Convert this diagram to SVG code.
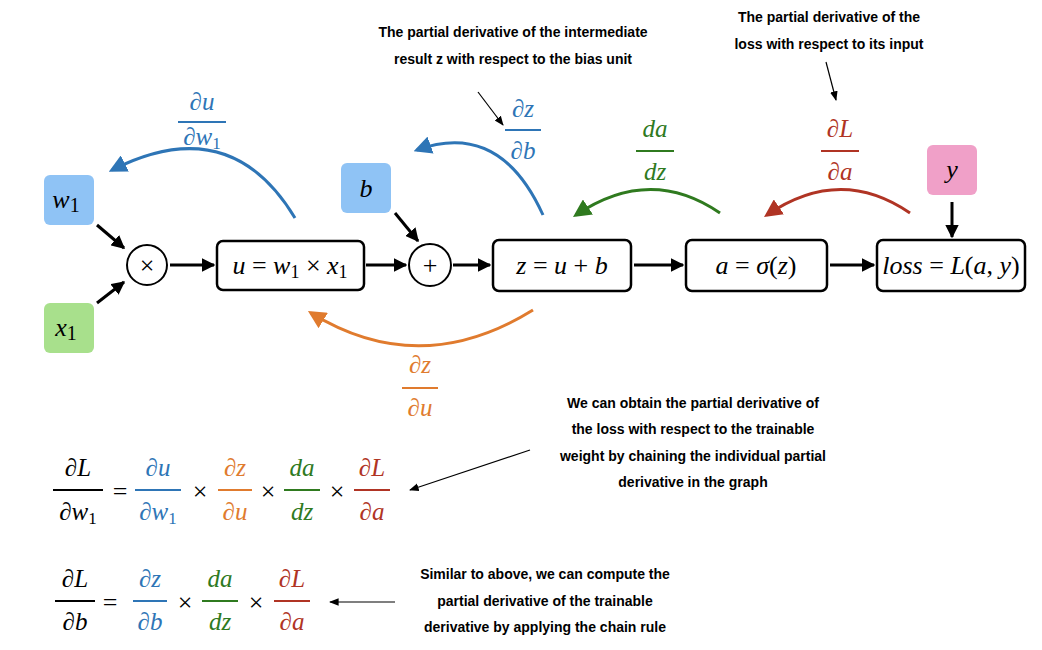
<svg xmlns="http://www.w3.org/2000/svg" width="1042" height="650" viewBox="0 0 1042 650">
<defs>
<style>
.m{font-family:"Liberation Serif",serif;font-style:italic;font-size:26px;text-anchor:middle}
.f{font-family:"Liberation Serif",serif;font-style:italic;font-size:25px;text-anchor:middle}
.n{font-family:"Liberation Serif",serif;font-size:26px;text-anchor:middle}
.a{font-family:"Liberation Sans",sans-serif;font-weight:bold;font-size:14px;text-anchor:middle;fill:#000}
.box{fill:#fff;stroke:#000;stroke-width:2.5}
.k{stroke:#000;stroke-width:3;fill:none;marker-end:url(#ah)}
.t{stroke:#000;stroke-width:1.2;fill:none;marker-end:url(#ta)}
.B{fill:#2e75b6}.O{fill:#e07b2e}.G{fill:#2f7a1f}.R{fill:#b03424}
</style>
<marker id="ah" viewBox="0 0 10 10" refX="9" refY="5" markerWidth="4.5" markerHeight="4.5" orient="auto"><path d="M0,0L10,5L0,10z"/></marker>
<marker id="ta" viewBox="0 0 10 10" refX="9" refY="5" markerWidth="8" markerHeight="8" orient="auto"><path d="M0,1L10,5L0,9z"/></marker>
<marker id="hB" viewBox="0 0 10 10" refX="8" refY="5" markerWidth="6" markerHeight="6" orient="auto"><path d="M0,0L10,5L0,10z" fill="#2e75b6"/></marker>
<marker id="hO" viewBox="0 0 10 10" refX="8" refY="5" markerWidth="6" markerHeight="6" orient="auto"><path d="M0,0L10,5L0,10z" fill="#e07b2e"/></marker>
<marker id="hG" viewBox="0 0 10 10" refX="8" refY="5" markerWidth="6" markerHeight="6" orient="auto"><path d="M0,0L10,5L0,10z" fill="#2f7a1f"/></marker>
<marker id="hR" viewBox="0 0 10 10" refX="8" refY="5" markerWidth="6" markerHeight="6" orient="auto"><path d="M0,0L10,5L0,10z" fill="#b03424"/></marker>
</defs>
<rect width="1042" height="650" fill="#fff"/>

<g id="w1"><rect x="44" y="175" width="50" height="50" rx="6" fill="#8fc3f5"/><text class="m" x="66" y="208">w<tspan font-style="normal" font-size="20" dy="4">1</tspan></text></g>
<g id="x1"><rect x="44" y="303" width="50" height="50" rx="6" fill="#a8e08c"/><text class="m" x="66" y="336">x<tspan font-style="normal" font-size="20" dy="4">1</tspan></text></g>
<g id="b"><rect x="341" y="163" width="50" height="50" rx="6" fill="#8fc3f5"/><text class="m" x="366" y="197">b</text></g>
<g id="y"><rect x="927" y="145" width="50" height="50" rx="6" fill="#f0a0c8"/><text class="m" x="952" y="178">y</text></g>
<g id="mul"><circle cx="147" cy="265" r="20" fill="#fff" stroke="#000" stroke-width="2"/><text class="n" x="147" y="274">×</text></g>
<g id="u"><rect class="box" x="217" y="241" width="147" height="49" rx="6"/><text class="m" x="290" y="274">u <tspan font-style="normal">=</tspan> w<tspan font-style="normal" font-size="18" dy="4">1</tspan><tspan dy="-4" font-style="normal"> × </tspan>x<tspan font-style="normal" font-size="18" dy="4">1</tspan></text></g>
<g id="add"><circle cx="430" cy="265" r="21" fill="#fff" stroke="#000" stroke-width="2"/><text class="n" x="430" y="274">+</text></g>
<g id="z"><rect class="box" x="493" y="240" width="138" height="51" rx="6"/><text class="m" x="562" y="274">z <tspan font-style="normal">=</tspan> u <tspan font-style="normal">+</tspan> b</text></g>
<g id="a"><rect class="box" x="686" y="240" width="141" height="51" rx="6"/><text class="m" x="756" y="274">a <tspan font-style="normal">=</tspan> σ<tspan font-style="normal">(</tspan>z<tspan font-style="normal">)</tspan></text></g>
<g id="loss"><rect class="box" x="877" y="240" width="148" height="51" rx="6"/><text class="m" x="951" y="274" font-size="23">loss <tspan font-style="normal">=</tspan> L<tspan font-style="normal">(</tspan>a<tspan font-style="normal">, </tspan>y<tspan font-style="normal">)</tspan></text></g>

<g id="connectors">
<path class="k" d="M97,225L124,248"/>
<path class="k" d="M97,303L124,282"/>
<path class="k" d="M170,265L214,265"/>
<path class="k" d="M366,265L406,265"/>
<path class="k" d="M453,265L490,265"/>
<path class="k" d="M634,265L683,265"/>
<path class="k" d="M830,265L874,265"/>
<path class="k" d="M395,213L418,241"/>
<path class="k" d="M952,202L952,237"/>
<path d="M295,218Q230,110 112,170" stroke="#2e75b6" stroke-width="3" fill="none" marker-end="url(#hB)"/>
<path d="M543,215Q500,120 417,150" stroke="#2e75b6" stroke-width="3" fill="none" marker-end="url(#hB)"/>
<path d="M720,213Q650,165 576,215" stroke="#2f7a1f" stroke-width="3" fill="none" marker-end="url(#hG)"/>
<path d="M910,213Q840,165 767,215" stroke="#b03424" stroke-width="3" fill="none" marker-end="url(#hR)"/>
<path d="M533,310Q420,380 311,313" stroke="#e07b2e" stroke-width="3" fill="none" marker-end="url(#hO)"/>
<path class="t" d="M478,92L503,125"/>
<path class="t" d="M826,62L836,100"/>
<path class="t" d="M530,450L410,490"/>
<path class="t" d="M395,602L330,602"/>
</g>

<g id="labels">
<text class="f B" x="202" y="110">∂u</text><rect x="178" y="121" width="48" height="2" class="B"/><text class="f B" x="202" y="145">∂w<tspan font-style="normal" font-size="17" dy="4">1</tspan></text>
<text class="f B" x="523" y="117">∂z</text><rect x="505" y="129" width="36" height="2" class="B"/><text class="f B" x="523" y="159">∂b</text>
<text class="f G" x="655" y="137">da</text><rect x="636" y="150" width="38" height="2" class="G"/><text class="f G" x="655" y="180">dz</text>
<text class="f R" x="840" y="137">∂L</text><rect x="821" y="150" width="38" height="2" class="R"/><text class="f R" x="840" y="180">∂a</text>
<text class="f O" x="420" y="373">∂z</text><rect x="402" y="387" width="36" height="2" class="O"/><text class="f O" x="420" y="416">∂u</text>

<text class="f" x="78" y="476">∂L</text><rect x="53" y="489" width="50" height="2"/><text class="f" x="78" y="520">∂w<tspan font-style="normal" font-size="17" dy="4">1</tspan></text>
<text class="n" x="120" y="500">=</text>
<text class="f B" x="158" y="476">∂u</text><rect x="135" y="489" width="46" height="2" class="B"/><text class="f B" x="158" y="520">∂w<tspan font-style="normal" font-size="17" dy="4">1</tspan></text>
<text class="n" x="200" y="500">×</text>
<text class="f O" x="235" y="476">∂z</text><rect x="218" y="489" width="34" height="2" class="O"/><text class="f O" x="235" y="520">∂u</text>
<text class="n" x="268" y="500">×</text>
<text class="f G" x="302" y="476">da</text><rect x="284" y="489" width="36" height="2" class="G"/><text class="f G" x="302" y="520">dz</text>
<text class="n" x="337" y="500">×</text>
<text class="f R" x="372" y="476">∂L</text><rect x="354" y="489" width="36" height="2" class="R"/><text class="f R" x="372" y="520">∂a</text>

<text class="f" x="75" y="587">∂L</text><rect x="55" y="600" width="40" height="2"/><text class="f" x="75" y="630">∂b</text>
<text class="n" x="110" y="611">=</text>
<text class="f B" x="150" y="587">∂z</text><rect x="133" y="600" width="34" height="2" class="B"/><text class="f B" x="150" y="630">∂b</text>
<text class="n" x="185" y="611">×</text>
<text class="f G" x="220" y="587">da</text><rect x="202" y="600" width="36" height="2" class="G"/><text class="f G" x="220" y="630">dz</text>
<text class="n" x="256" y="611">×</text>
<text class="f R" x="292" y="587">∂L</text><rect x="274" y="600" width="36" height="2" class="R"/><text class="f R" x="292" y="630">∂a</text>

<text class="a" x="513" y="37">The partial derivative of the intermediate</text>
<text class="a" x="513" y="64">result z with respect to the bias unit</text>
<text class="a" x="829" y="22">The partial derivative of the</text>
<text class="a" x="829" y="49">loss with respect to its input</text>
<text class="a" x="693" y="408">We can obtain the partial derivative of</text>
<text class="a" x="693" y="434">the loss with respect to the trainable</text>
<text class="a" x="693" y="461">weight by chaining the individual partial</text>
<text class="a" x="693" y="487">derivative in the graph</text>
<text class="a" x="545" y="579">Similar to above, we can compute the</text>
<text class="a" x="545" y="606">partial derivative of the trainable</text>
<text class="a" x="545" y="632">derivative by applying the chain rule</text>
</g>
</svg>
